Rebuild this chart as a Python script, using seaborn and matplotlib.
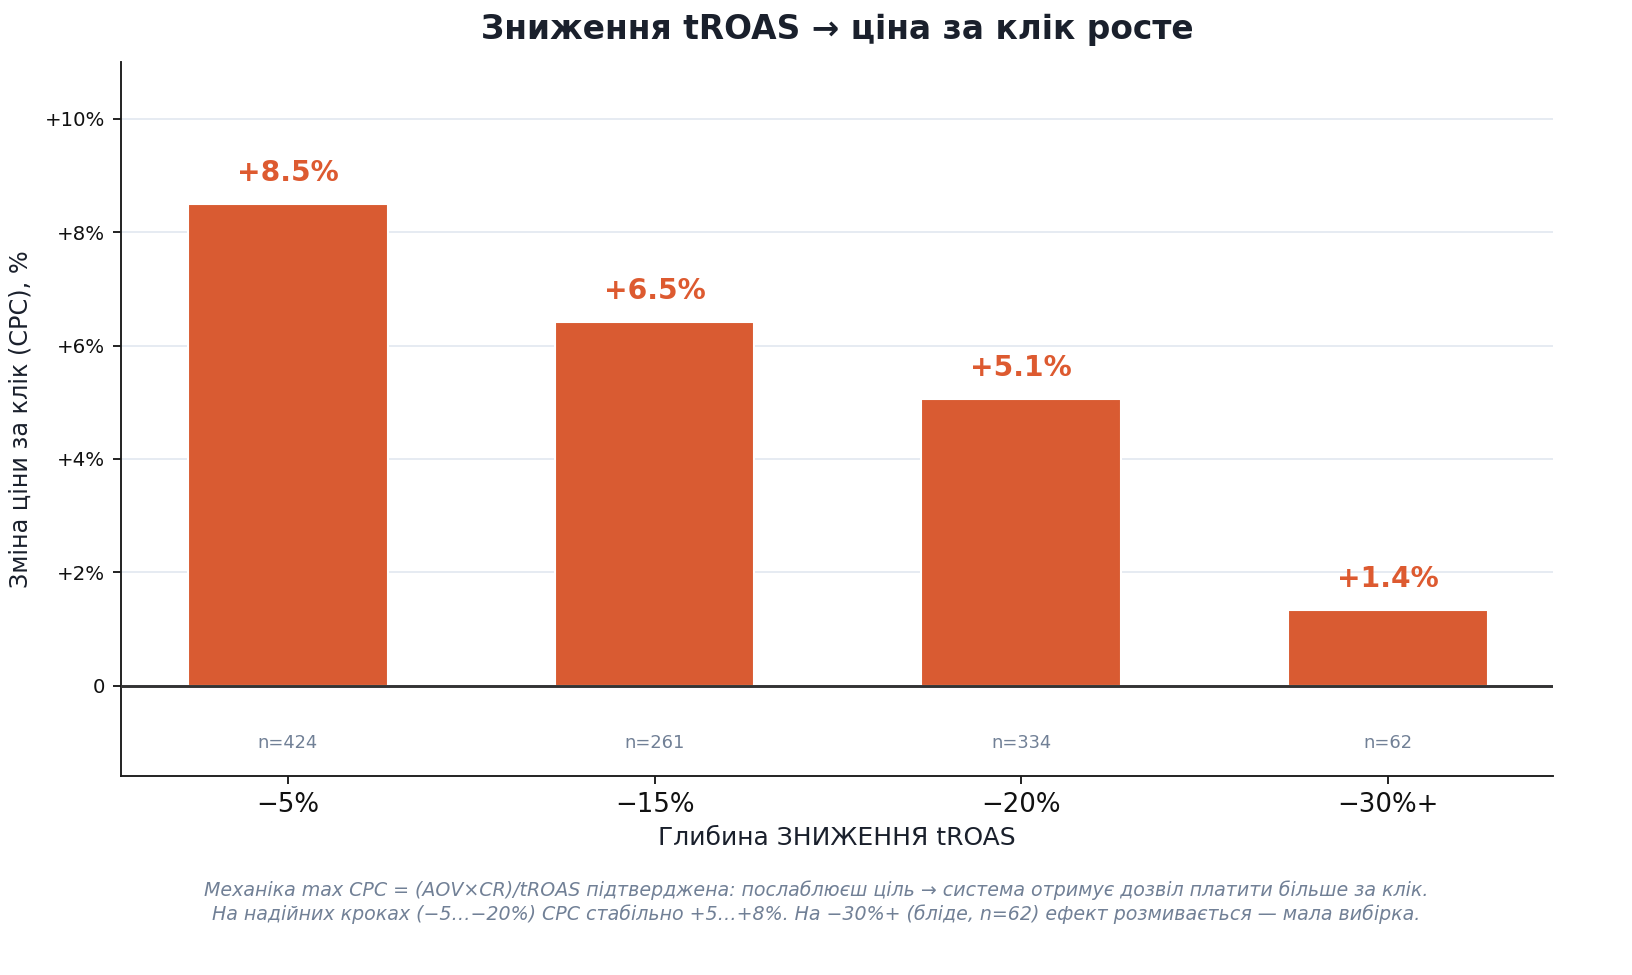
import matplotlib
matplotlib.use("Agg")
import matplotlib.pyplot as plt
import seaborn as sns
import pandas as pd

categories = ["−5%", "−15%", "−20%", "−30%+"]
values = [8.50, 6.42, 5.06, 1.34]
value_labels = ["+8.5%", "+6.5%", "+5.1%", "+1.4%"]
n_labels = ["n=424", "n=261", "n=334", "n=62"]
yticks = [0, 2, 4, 6, 8, 10]
ytick_labels = ["0", "+2%", "+4%", "+6%", "+8%", "+10%"]

title = "Зниження tROAS → ціна за клік росте"
xlabel = "Глибина ЗНИЖЕННЯ tROAS"
ylabel = "Зміна ціни за клік (CPC), %"
footer = ("Механіка max CPC = (AOV×CR)/tROAS підтверджена: послаблюєш ціль → система отримує дозвіл платити більше за клік.\n"
          "На надійних кроках (−5…−20%) CPC стабільно +5…+8%. На −30%+ (бліде, n=62) ефект розмивається — мала вибірка.")

sns.set_theme(style="white")
plt.rcParams['font.family'] = ['DejaVu Sans']

bar_color = "#d95b32"
df = pd.DataFrame({"cat": categories, "val": values})

fig = plt.figure(figsize=(10.88, 6.5), dpi=150)
ax = fig.add_axes([121/1632, 1 - 776/975, (1553-121)/1632, (776-62)/975])

sns.barplot(data=df, x="cat", y="val", color=bar_color, width=0.545, saturation=1, ax=ax, zorder=3)

for i, (v, lab, n) in enumerate(zip(values, value_labels, n_labels)):
    ax.text(i, v + 0.3, lab, ha="center", va="bottom", fontsize=13.5, fontweight="bold", color="#dd5a30", zorder=4)
    ax.text(i, -1.0, n, ha="center", va="center", fontsize=8.6, color="#718096")

ax.axhline(0, color="#333333", linewidth=1.4, zorder=4)
ax.set_xlim(-0.455, 3.45)
ax.set_ylim(-1.59, 11.0)
ax.set_yticks(yticks)
ax.set_yticklabels(ytick_labels)
ax.yaxis.grid(True, color="#e2e8f0", linewidth=0.8, zorder=0)
ax.set_axisbelow(True)

for s in ["top", "right"]:
    ax.spines[s].set_visible(False)
for s in ["left", "bottom"]:
    ax.spines[s].set_color("#1a1a1a")
    ax.spines[s].set_linewidth(0.9)

ax.tick_params(axis="y", labelsize=9.5, left=True, length=4, width=0.9, color="#1a1a1a", labelcolor="#111111")
ax.tick_params(axis="x", labelsize=12.5, bottom=True, length=4, width=0.9, color="#1a1a1a", labelcolor="#111111")

ax.set_xlabel(xlabel, fontsize=12, color="#1a202c", labelpad=4)
ax.set_ylabel(ylabel, fontsize=11.5, color="#1a202c", labelpad=6)
ax.set_title(title, fontsize=15.8, fontweight="bold", color="#1a202c", pad=11)

fig.text(0.5, 1 - 902/975, footer, ha="center", va="center", fontsize=9.1, style="italic", color="#718096", linespacing=1.3)

fig.savefig("out.png", dpi=150)
